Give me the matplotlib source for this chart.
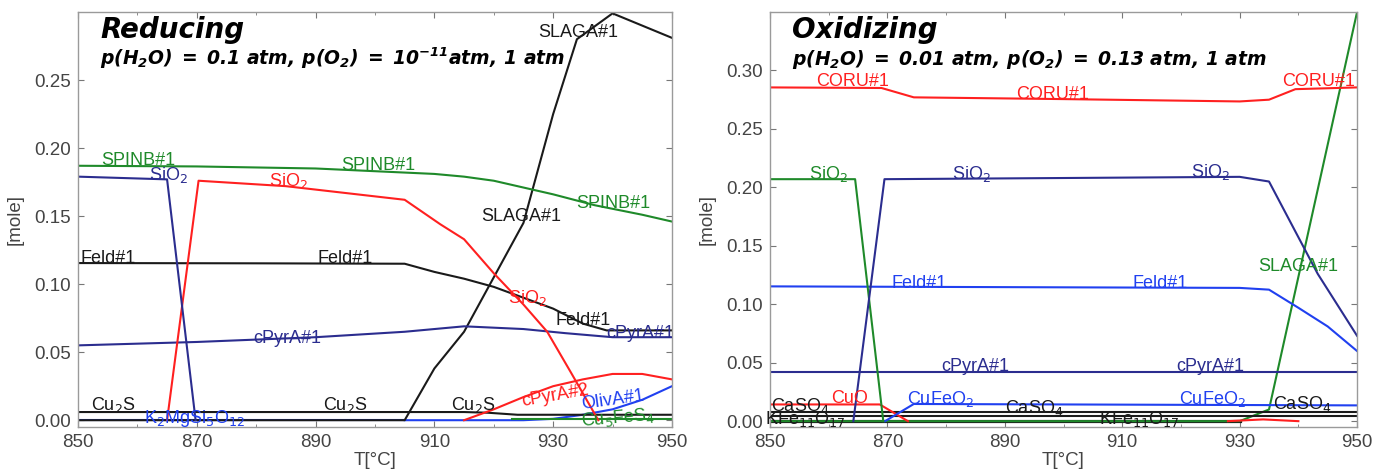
import matplotlib.pyplot as plt

plt.rcParams['font.family'] = ['Liberation Sans', 'DejaVu Sans']
# bold italic mathtext used only for the condition lines under the titles
plt.rcParams['mathtext.rm'] = 'DejaVu Sans:bold:italic'
plt.rcParams['mathtext.it'] = 'DejaVu Sans:bold:italic'
plt.rcParams['mathtext.bf'] = 'DejaVu Sans:bold:italic'

RED = '#ff2020'
GREEN = '#1f8a2a'
NAVY = '#2b2d8f'
BLUE = '#2040f0'
BLACK = '#1a1a1a'

# ---- Reducing panel data (T in degC, amount in mole) ----
r_spinb_t = [850, 870, 890, 900, 910, 915, 920, 925, 930, 937, 945, 950]
r_spinb = [0.187, 0.1865, 0.185, 0.183, 0.181, 0.179, 0.176, 0.171, 0.166, 0.158, 0.151, 0.146]

r_sio2_navy_t = [850, 865, 869.8]
r_sio2_navy = [0.179, 0.177, 0.0]

r_sio2_red_t = [865, 870.3, 885, 905, 911, 915, 920, 925, 929, 933, 937.6]
r_sio2_red = [0.0, 0.176, 0.172, 0.162, 0.144, 0.133, 0.108, 0.085, 0.065, 0.035, 0.0]

r_feld_t = [850, 880, 905, 910, 915, 920, 925, 930, 935, 939, 950]
r_feld = [0.1155, 0.1153, 0.115, 0.109, 0.104, 0.098, 0.090, 0.082, 0.071, 0.066, 0.066]

r_cpyra1_t = [850, 870, 890, 905, 915, 925, 932, 940, 950]
r_cpyra1 = [0.055, 0.0575, 0.061, 0.065, 0.069, 0.067, 0.064, 0.061, 0.061]

r_slaga_t = [850, 905, 910, 915, 920, 925, 930, 934, 940, 950]
r_slaga = [0.0, 0.0, 0.038, 0.065, 0.105, 0.145, 0.225, 0.28, 0.299, 0.281]

r_cu2s_t = [850, 915, 919, 924, 950]
r_cu2s = [0.006, 0.006, 0.0055, 0.004, 0.004]

r_cpyra2_t = [915, 920, 925, 930, 935, 940, 945, 950]
r_cpyra2 = [0.0, 0.008, 0.017, 0.025, 0.030, 0.034, 0.034, 0.030]

r_k2mg_t = [850, 905]
r_k2mg = [0.0, 0.0]

r_oliva_t = [905, 925, 930, 935, 940, 945, 950]
r_oliva = [0.0, 0.0, 0.001, 0.004, 0.008, 0.015, 0.025]

r_cu5fes4_t = [923, 950]
r_cu5fes4 = [0.0008, 0.0008]

# ---- Oxidizing panel data ----
o_coru_t = [850, 869, 874.5, 900, 930, 935, 939.5, 950]
o_coru = [0.2855, 0.285, 0.277, 0.2755, 0.2735, 0.275, 0.284, 0.2855]

o_sio2_green_t = [850, 864.5, 869.3]
o_sio2_green = [0.207, 0.207, 0.0]

o_sio2_navy_t = [864.2, 869.5, 900, 930, 935, 939.2, 943.3, 950]
o_sio2_navy = [0.0, 0.207, 0.208, 0.209, 0.205, 0.165, 0.126, 0.073]

o_slaga_t = [850, 930, 935, 950]
o_slaga = [0.0, 0.0, 0.01, 0.35]

o_feld_t = [850, 930, 935, 940, 945, 950]
o_feld = [0.1153, 0.114, 0.1125, 0.097, 0.081, 0.060]

o_cpyra_t = [850, 950]
o_cpyra = [0.042, 0.042]

o_cuo_t = [850, 868.7, 873.5]
o_cuo = [0.0143, 0.0143, 0.0]

o_cufeo2_t = [869.6, 874.5, 950]
o_cufeo2 = [0.0, 0.0147, 0.0135]

o_caso4_t = [850, 950]
o_caso4 = [0.008, 0.008]

o_kfe_t = [850, 950]
o_kfe = [0.0045, 0.0045]

o_bottom_t = [850, 930]
o_bottom = [0.0, 0.0]

o_bump_t = [928, 934, 940]
o_bump = [0.0, 0.0015, 0.0]


def setup(ax, ymax, yticks):
    ax.set_xlim(850, 950)
    ax.set_ylim(-0.005, ymax)
    ax.set_xticks([850, 870, 890, 910, 930, 950])
    ax.set_xticks(range(860, 950, 20), minor=True)
    ax.set_yticks(yticks)
    ax.yaxis.set_major_formatter(plt.FormatStrFormatter('%.2f'))
    ax.tick_params(direction='in', top=True, right=True, length=4, width=0.8,
                   colors='#777777', labelcolor='#444444', labelsize=13.5, pad=5)
    ax.tick_params(which='minor', direction='in', top=True, length=2.5, colors='#777777')
    for s in ax.spines.values():
        s.set_color('#9a9a9a')
        s.set_linewidth(1.0)
    ax.set_xlabel('T[°C]', fontsize=13.5, color='#444444', labelpad=1)
    ax.set_ylabel('[mole]', fontsize=13.5, color='#444444', labelpad=8)


def lab(ax, x, y, s, c, rot=0, clip=False):
    ax.text(x, y, s, color=c, fontsize=13, ha='center', va='center',
            rotation=rot, clip_on=clip)


def heading(ax, title, cond):
    ax.text(0.037, 0.937, title, transform=ax.transAxes, family='DejaVu Sans',
            fontsize=20, fontweight='bold', style='italic', va='baseline')
    ax.text(0.037, 0.872, cond, transform=ax.transAxes, math_fontfamily='custom',
            fontsize=13.5, va='baseline')


fig = plt.figure(figsize=(13.73, 4.71), dpi=100)
ax1 = fig.add_axes([0.0568, 0.0934, 0.4326, 0.8811])
ax2 = fig.add_axes([0.5608, 0.0934, 0.4276, 0.8811])

lw = 1.5
# Reducing
ax1.plot(r_k2mg_t, r_k2mg, color=BLUE, lw=lw)
ax1.plot(r_oliva_t, r_oliva, color=BLUE, lw=lw)
ax1.plot(r_cu5fes4_t, r_cu5fes4, color=GREEN, lw=lw)
ax1.plot(r_cu2s_t, r_cu2s, color=BLACK, lw=lw)
ax1.plot(r_cpyra2_t, r_cpyra2, color=RED, lw=lw)
ax1.plot(r_slaga_t, r_slaga, color=BLACK, lw=lw)
ax1.plot(r_feld_t, r_feld, color=BLACK, lw=lw)
ax1.plot(r_cpyra1_t, r_cpyra1, color=NAVY, lw=lw)
ax1.plot(r_sio2_red_t, r_sio2_red, color=RED, lw=lw)
ax1.plot(r_sio2_navy_t, r_sio2_navy, color=NAVY, lw=lw)
ax1.plot(r_spinb_t, r_spinb, color=GREEN, lw=lw)
setup(ax1, 0.30, [0, 0.05, 0.10, 0.15, 0.20, 0.25])

lab(ax1, 934.2, 0.285, 'SLAGA#1', BLACK)
lab(ax1, 860.1, 0.191, 'SPINB#1', GREEN)
lab(ax1, 865.2, 0.180, 'SiO$_2$', NAVY)
lab(ax1, 900.5, 0.187, 'SPINB#1', GREEN)
lab(ax1, 885.4, 0.176, 'SiO$_2$', RED)
lab(ax1, 940.2, 0.159, 'SPINB#1', GREEN)
lab(ax1, 924.7, 0.150, 'SLAGA#1', BLACK)
lab(ax1, 855.0, 0.119, 'Feld#1', BLACK)
lab(ax1, 895.0, 0.119, 'Feld#1', BLACK)
lab(ax1, 925.6, 0.090, 'SiO$_2$', RED)
lab(ax1, 935.0, 0.073, 'Feld#1', BLACK)
lab(ax1, 885.2, 0.060, 'cPyrA#1', NAVY)
lab(ax1, 944.6, 0.064, 'cPyrA#1', NAVY, clip=True)
lab(ax1, 855.9, 0.011, 'Cu$_2$S', BLACK)
lab(ax1, 895.0, 0.011, 'Cu$_2$S', BLACK)
lab(ax1, 916.5, 0.011, 'Cu$_2$S', BLACK)
lab(ax1, 869.7, 0.001, 'K$_2$MgSi$_5$O$_{12}$', BLUE)
lab(ax1, 930.3, 0.018, 'cPyrA#2', RED, rot=10)
lab(ax1, 940.0, 0.015, 'OlivA#1', BLUE, rot=8)
lab(ax1, 940.9, 0.002, 'Cu$_5$FeS$_4$', GREEN, rot=5)

heading(ax1, 'Reducing',
        r'$p(H_2O)\;{=}\;0.1\ atm,\,p(O_2)\;{=}\;10^{-11}atm,\,1\ atm$')

# Oxidizing
ax2.plot(o_bottom_t, o_bottom, color=BLACK, lw=lw + 0.8)
ax2.plot(o_slaga_t, o_slaga, color=GREEN, lw=lw)
ax2.plot(o_bump_t, o_bump, color=RED, lw=lw)
ax2.plot(o_kfe_t, o_kfe, color=BLACK, lw=lw)
ax2.plot(o_caso4_t, o_caso4, color=BLACK, lw=lw)
ax2.plot(o_cuo_t, o_cuo, color=RED, lw=lw)
ax2.plot(o_cufeo2_t, o_cufeo2, color=BLUE, lw=lw)
ax2.plot(o_cpyra_t, o_cpyra, color=NAVY, lw=lw)
ax2.plot(o_feld_t, o_feld, color=BLUE, lw=lw)
ax2.plot(o_sio2_green_t, o_sio2_green, color=GREEN, lw=lw)
ax2.plot(o_sio2_navy_t, o_sio2_navy, color=NAVY, lw=lw)
ax2.plot(o_coru_t, o_coru, color=RED, lw=lw)
setup(ax2, 0.35, [0, 0.05, 0.10, 0.15, 0.20, 0.25, 0.30])

lab(ax2, 864.0, 0.2906, 'CORU#1', RED)
lab(ax2, 898.2, 0.2795, 'CORU#1', RED)
lab(ax2, 943.4, 0.2906, 'CORU#1', RED, clip=True)
lab(ax2, 859.9, 0.2115, 'SiO$_2$', GREEN)
lab(ax2, 884.4, 0.2115, 'SiO$_2$', NAVY)
lab(ax2, 925.1, 0.213, 'SiO$_2$', NAVY)
lab(ax2, 940.0, 0.132, 'SLAGA#1', GREEN)
lab(ax2, 875.4, 0.118, 'Feld#1', BLUE)
lab(ax2, 916.4, 0.118, 'Feld#1', BLUE)
lab(ax2, 884.9, 0.047, 'cPyrA#1', NAVY)
lab(ax2, 925.0, 0.047, 'cPyrA#1', NAVY)
lab(ax2, 863.5, 0.019, 'CuO', RED)
lab(ax2, 879.1, 0.019, 'CuFeO$_2$', BLUE)
lab(ax2, 925.3, 0.019, 'CuFeO$_2$', BLUE)
lab(ax2, 855.1, 0.013, 'CaSO$_4$', BLACK)
lab(ax2, 856.0, 0.002, 'KFe$_{11}$O$_{17}$', BLACK)
lab(ax2, 895.0, 0.011, 'CaSO$_4$', BLACK)
lab(ax2, 913.0, 0.002, 'KFe$_{11}$O$_{17}$', BLACK)
lab(ax2, 940.6, 0.0146, 'CaSO$_4$', BLACK)

heading(ax2, 'Oxidizing',
        r'$p(H_2O)\;{=}\;0.01\ atm,\,p(O_2)\;{=}\;0.13\ atm,\,1\ atm$')

fig.savefig('out.png', dpi=100)
